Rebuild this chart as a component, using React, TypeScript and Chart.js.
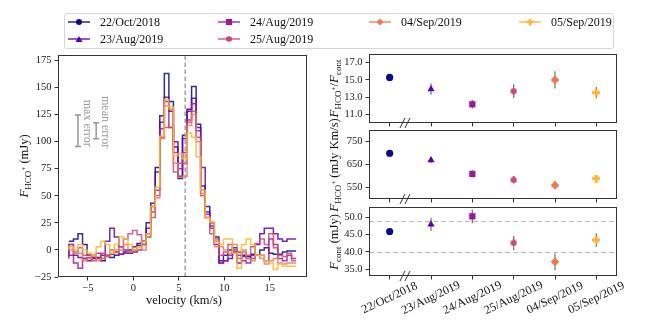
import React, { useEffect, useRef } from "react";
import { Chart, registerables } from "chart.js";
Chart.register(...registerables);

// ---------------- data ----------------
const DATES = ["22/Oct/2018", "23/Aug/2019", "24/Aug/2019", "25/Aug/2019", "04/Sep/2019", "05/Sep/2019"];
const COLORS = ["#0d0887", "#5c01a6", "#9c179e", "#cc4778", "#ed7953", "#fdb42f"];

const VELOCITY = [
  -7.1, -6.6, -6.1, -5.6, -5.1, -4.6, -4.1, -3.6, -3.1, -2.6, -2.1, -1.6, -1.1, -0.6, -0.1, 0.4, 0.9,
  1.4, 1.9, 2.4, 2.9, 3.4, 3.9, 4.4, 4.9, 5.4, 5.9, 6.4, 6.9, 7.4, 7.9, 8.4, 8.9, 9.4, 9.9, 10.4,
  10.9, 11.4, 11.9, 12.4, 12.9, 13.4, 13.9, 14.4, 14.9, 15.4, 15.9, 16.4, 16.9, 17.4, 17.9,
];
const S_22OCT = [
  8, 8, 10, 15, 5, -5, -8, -7, -10, -6, -7, -5, -4, -2, 0, 3, 6, 8,
  25, 43, 76, 124, 163, 137, 95, 66, 106, 130, 151, 116, 59, 40, 25, 12,
  -10, -5, 0, 2, -2, -5, -6, -4, -5, 0, 2, -3, -4, -4, -2, -1, -1,
];
const S_23AUG = [
  -8, 5, -5, -7, -8, -10, -7, -8, -5, 8, 20, 12, 3, 0, -3, -2, 4, 8,
  20, 40, 72, 118, 141, 128, 100, 68, 103, 128, 140, 113, 76, 35, 22, 5,
  -12, -10, -8, -2, -12, -6, -8, -5, 5, 15, 20, 20, 15, 10, 8, 10, 10,
];
const S_24AUG = [
  0, -5, -12, -17, -8, -7, -5, -3, -8, -5, -4, -2, -4, -3, -2, 0, 0, 5,
  15, 35, 55, 112, 137, 113, 90, 75, 90, 120, 135, 110, 55, 33, 20, 8,
  -12, -10, -5, 0, -5, -10, -12, -8, -5, -5, -10, 10, 5, -8, -10, -5, -8,
];
const S_25AUG = [
  3, 5, -2, 2, -5, -5, -10, -8, -3, -5, 0, -2, 3, 10, 15, 18, 14, 5,
  12, 30, 50, 104, 113, 113, 72, 80, 80, 118, 128, 104, 50, 30, 15, 10,
  -5, -2, 5, -3, -8, -2, -5, 3, 6, 10, 5, 15, 2, -5, -6, -3, -10,
];
const S_04SEP = [
  2, 0, -3, -3, -10, -8, -6, -10, -8, -6, -3, 0, 0, 5, -2, 0, 3, 0,
  12, 35, 48, 103, 133, 130, 80, 67, 68, 115, 125, 100, 52, 30, 25, 3,
  3, 0, -3, 5, -2, 0, -8, -10, -5, -8, -13, -10, -8, -12, -13, -12, -12,
];
const S_05SEP = [
  1, 3, 0, 5, 0, -3, -5, 3, 8, 5, -3, 5, 12, 10, 5, 0, 3, 8,
  15, 40, 58, 105, 139, 132, 87, 89, 84, 108, 104, 86, 55, 30, 26, 8,
  5, 10, 10, -3, -17, 5, 10, 5, -5, -5, -10, -12, -18, -13, -15, -15, -15,
];
const SPECTRA = [S_22OCT, S_23AUG, S_24AUG, S_25AUG, S_04SEP, S_05SEP];
const SYSTEMIC_VELOCITY = 5.7;

const VEL_TICKS = [-5, 0, 5, 10, 15];
const FLUX_TICKS = [-25, 0, 25, 50, 75, 100, 125, 150, 175];

const MAX_ERROR = 14.5;
const MEAN_ERROR = 7.4;
const ERROR_LEVEL = 110;

const RATIO = [15.28, 13.93, 12.17, 13.7, 15.0, 13.53];
const RATIO_ERR = [0.3, 0.65, 0.5, 0.8, 1.0, 0.65];
const RATIO_TICKS = [11, 13, 15, 17];

const INT_FLUX = [699, 669, 609, 583, 560, 589];
const INT_FLUX_ERR = [10, 12, 16, 16, 18, 14];
const INT_FLUX_TICKS = [550, 650, 750];

const FCONT = [45.9, 47.95, 50.3, 42.6, 37.1, 43.4];
const FCONT_ERR = [1.0, 1.9, 2.0, 2.1, 2.4, 2.0];
const FCONT_TICKS = [35, 40, 45, 50];
const FCONT_REF = [49.0, 40.1];

// ---------------- helpers ----------------
const FONT = "'Liberation Serif', 'DejaVu Serif', serif";
const TICK_FONT = { family: FONT, size: 10.5 };

function rgba(hex: string, a: number) {
  const n = parseInt(hex.slice(1), 16);
  return `rgba(${n >> 16},${(n >> 8) & 255},${n & 255},${a})`;
}
const minus = (s: string) => s.replace("-", "\u2212");

function fixScale(s: any, horizontal: boolean, size: number) {
  if (horizontal) s.height = size;
  else s.width = size;
  s.paddingLeft = 0;
  s.paddingRight = 0;
  s.paddingTop = 0;
  s.paddingBottom = 0;
}
const setTicks = (vals: number[]) => (s: any) => {
  s.ticks = vals.map((v) => ({ value: v }));
};

type Seg = [string, number, number, boolean?];
function drawRich(ctx: CanvasRenderingContext2D, segs: Seg[], cx: number, cy: number, angle: number, color: string) {
  ctx.save();
  ctx.translate(cx, cy);
  ctx.rotate(angle);
  ctx.fillStyle = color;
  ctx.textBaseline = "alphabetic";
  ctx.textAlign = "left";
  const fontOf = (s: Seg) => `${s[3] ? "italic " : ""}${s[1]}px ${FONT}`;
  let total = 0;
  const ws = segs.map((s) => {
    ctx.font = fontOf(s);
    const w = ctx.measureText(s[0]).width;
    total += w;
    return w;
  });
  let x = -total / 2;
  segs.forEach((s, i) => {
    ctx.font = fontOf(s);
    ctx.fillText(s[0], x, 4 + s[2]);
    x += ws[i];
  });
  ctx.restore();
}

const F_HCO: Seg[] = [["F", 13, 0, true], ["HCO", 9, 2.5], ["+", 7, -2.5]];
const F_CONT: Seg[] = [["F", 13, 0, true], ["cont", 9, 2.5]];

const boxPlugin = {
  id: "box",
  afterDatasetsDraw(chart: any) {
    const { ctx, chartArea: a } = chart;
    ctx.save();
    ctx.strokeStyle = "#333";
    ctx.lineWidth = 1;
    ctx.strokeRect(Math.round(a.left) + 0.5, Math.round(a.top) + 0.5, Math.round(a.right - a.left) - 1, Math.round(a.bottom - a.top) - 1);
    ctx.restore();
  },
};

function labelPlugin(segs: Seg[], cx: number, cy: number, angle: number) {
  return {
    id: "lbl",
    afterDraw(chart: any) {
      drawRich(chart.ctx, segs, cx, cy, angle, "#111");
    },
  };
}

function errPlugin(vals: number[], errs: number[]) {
  return {
    id: "err",
    beforeDatasetsDraw(chart: any) {
      const x = chart.scales.x, y = chart.scales.y, ctx = chart.ctx;
      ctx.save();
      ctx.strokeStyle = "rgba(110,110,110,0.9)";
      ctx.lineWidth = 1.3;
      vals.forEach((v, i) => {
        const px = x.getPixelForValue(i);
        ctx.beginPath();
        ctx.moveTo(px, y.getPixelForValue(v - errs[i]));
        ctx.lineTo(px, y.getPixelForValue(v + errs[i]));
        ctx.stroke();
      });
      ctx.restore();
    },
  };
}

const breakPlugin = {
  id: "brk",
  afterDraw(chart: any) {
    const x = chart.scales.x, ctx = chart.ctx;
    const x0 = x.getPixelForValue(0), x1 = x.getPixelForValue(1);
    const cx = x0 + 0.37 * (x1 - x0);
    const y = chart.chartArea.bottom;
    ctx.save();
    ctx.strokeStyle = "#333";
    ctx.lineWidth = 1;
    [-2.5, 2.5].forEach((o) => {
      ctx.beginPath();
      ctx.moveTo(cx + o - 2.5, y + 5);
      ctx.lineTo(cx + o + 2.5, y - 5);
      ctx.stroke();
    });
    ctx.restore();
  },
};

function makeMarker(kind: "hex" | "plus", color: string, size: number) {
  const c = document.createElement("canvas");
  c.width = size;
  c.height = size;
  const g = c.getContext("2d")!;
  g.fillStyle = color;
  g.beginPath();
  const r = size / 2;
  if (kind === "hex") {
    for (let k = 0; k < 6; k++) {
      const a = -Math.PI / 2 + (k * Math.PI) / 3;
      const px = r + r * Math.cos(a), py = r + r * Math.sin(a);
      if (k === 0) g.moveTo(px, py);
      else g.lineTo(px, py);
    }
    g.closePath();
  } else {
    const t = size * 0.36;
    const o = (size - t) / 2;
    g.rect(o, 0, t, size);
    g.rect(0, o, size, t);
  }
  g.fill();
  return c;
}

const PANEL_Y_W = 45;
function panelYScale(min: number, max: number, ticks: number[], fmt: (v: number) => string) {
  return {
    type: "linear",
    min,
    max,
    afterBuildTicks: setTicks(ticks),
    afterFit: (s: any) => fixScale(s, false, PANEL_Y_W),
    grid: { drawOnChartArea: false, tickLength: 3.5, color: "#333" },
    border: { display: false },
    ticks: { font: TICK_FONT, color: "#222", padding: 3, autoSkip: false, callback: (v: any) => fmt(Number(v)) },
  };
}
const panelXScale = {
  type: "category",
  offset: true,
  afterFit: (s: any) => fixScale(s, true, 0),
  grid: { offset: false, drawOnChartArea: false, tickLength: 3.5, color: "#333" },
  border: { display: false },
  ticks: { display: false },
};

function panelConfig(vals: number[], errs: number[], yScale: any, padTop: number, padBottom: number, extra: any[]) {
  const styles: any[] = [
    "circle",
    "triangle",
    "rect",
    makeMarker("hex", COLORS[3], 7),
    "rectRot",
    makeMarker("plus", COLORS[5], 8),
  ];
  return {
    type: "line",
    data: {
      labels: DATES,
      datasets: [
        {
          data: vals,
          showLine: false,
          pointStyle: styles,
          pointRadius: [3.6, 4.2, 4.4, 3.5, 4.3, 4],
          pointBackgroundColor: COLORS,
          pointBorderColor: COLORS,
          pointBorderWidth: 0,
        },
      ],
    },
    options: {
      responsive: false,
      animation: false,
      devicePixelRatio: 1,
      events: [],
      layout: { padding: { left: 369 - PANEL_Y_W, right: 33, top: padTop, bottom: padBottom } },
      plugins: { legend: { display: false }, tooltip: { enabled: false } },
      scales: { x: panelXScale, y: yScale },
    },
    plugins: [errPlugin(vals, errs), boxPlugin, breakPlugin, ...extra],
  };
}

// ---------------- chart configs ----------------
function spectrumConfig() {
  const datasets: any[] = SPECTRA.map((s, i) => ({
    label: DATES[i],
    data: VELOCITY.map((v, j) => ({ x: v, y: s[j] })),
    borderColor: rgba(COLORS[i], 0.85),
    borderWidth: 1.5,
    pointRadius: 0,
    stepped: "after",
    fill: false,
    order: 10 - i,
  }));
  datasets.push({
    data: [
      { x: SYSTEMIC_VELOCITY, y: -25 },
      { x: SYSTEMIC_VELOCITY, y: 180 },
    ],
    borderColor: "rgba(150,150,150,0.85)",
    borderWidth: 1.6,
    borderDash: [4.5, 2.5],
    pointRadius: 0,
    order: -1,
  });
  const annot = {
    id: "annot",
    afterDatasetsDraw(chart: any) {
      const x = chart.scales.x, y = chart.scales.y, ctx = chart.ctx;
      ctx.save();
      ctx.strokeStyle = "rgba(140,140,140,0.9)";
      ctx.lineWidth = 1.5;
      ([[-6.1, MAX_ERROR], [-4.1, MEAN_ERROR]] as number[][]).forEach(([xv, e]) => {
        const px = x.getPixelForValue(xv);
        const t = y.getPixelForValue(ERROR_LEVEL + e), b = y.getPixelForValue(ERROR_LEVEL - e);
        ctx.beginPath();
        ctx.moveTo(px, t);
        ctx.lineTo(px, b);
        ctx.moveTo(px - 3, t);
        ctx.lineTo(px + 3, t);
        ctx.moveTo(px - 3, b);
        ctx.lineTo(px + 3, b);
        ctx.stroke();
      });
      ctx.restore();
      drawRich(ctx, [["max error", 12, 0]], x.getPixelForValue(-4.95), y.getPixelForValue(117), Math.PI / 2, "#9a9a9a");
      drawRich(ctx, [["mean error", 12, 0]], x.getPixelForValue(-3.0), y.getPixelForValue(118), Math.PI / 2, "#9a9a9a");
      drawRich(ctx, [...F_HCO, [" (mJy)", 12.5, 0]], 24, 166, -Math.PI / 2, "#111");
      drawRich(ctx, [["velocity (km/s)", 12.5, 0]], 184, 300, 0, "#111");
    },
  };
  return {
    type: "line",
    data: { datasets },
    options: {
      responsive: false,
      animation: false,
      devicePixelRatio: 1,
      events: [],
      layout: { padding: { left: 8, top: 55, right: 343, bottom: 23 } },
      plugins: { legend: { display: false }, tooltip: { enabled: false } },
      scales: {
        x: {
          type: "linear",
          min: -8.3,
          max: 19.1,
          afterBuildTicks: setTicks(VEL_TICKS),
          afterFit: (s: any) => fixScale(s, true, 25),
          grid: { drawOnChartArea: false, tickLength: 3.5, color: "#333" },
          border: { display: false },
          ticks: { font: TICK_FONT, color: "#222", padding: 1, maxRotation: 0, autoSkip: false, callback: (v: any) => minus(String(v)) },
        },
        y: {
          type: "linear",
          min: -25,
          max: 180,
          afterBuildTicks: setTicks(FLUX_TICKS),
          afterFit: (s: any) => fixScale(s, false, 50),
          grid: { drawOnChartArea: false, tickLength: 3.5, color: "#333" },
          border: { display: false },
          ticks: { font: TICK_FONT, color: "#222", padding: 3, autoSkip: false, callback: (v: any) => minus(String(v)) },
        },
      },
    },
    plugins: [boxPlugin, annot],
  };
}

function ratioConfig() {
  return panelConfig(RATIO, RATIO_ERR, panelYScale(10, 18, RATIO_TICKS, (v) => v.toFixed(1)), 54, 202, [
    labelPlugin([...F_HCO, ["/", 12.5, 0], ...F_CONT], 334, 88.5, -Math.PI / 2),
  ]);
}
function intFluxConfig() {
  return panelConfig(INT_FLUX, INT_FLUX_ERR, panelYScale(500, 800, INT_FLUX_TICKS, (v) => String(v)), 130, 126, [
    labelPlugin([...F_HCO, [" (mJy Km/s)", 12.5, 0]], 334, 165, -Math.PI / 2),
  ]);
}
function fcontConfig() {
  const refLines = {
    id: "ref",
    beforeDatasetsDraw(chart: any) {
      const y = chart.scales.y, a = chart.chartArea, ctx = chart.ctx;
      ctx.save();
      ctx.strokeStyle = "#bdbdbd";
      ctx.lineWidth = 1;
      ctx.setLineDash([5, 3]);
      FCONT_REF.forEach((v) => {
        const py = Math.round(y.getPixelForValue(v)) + 0.5;
        ctx.beginPath();
        ctx.moveTo(a.left, py);
        ctx.lineTo(a.right, py);
        ctx.stroke();
      });
      ctx.restore();
    },
  };
  const dateLabels = {
    id: "dates",
    afterDraw(chart: any) {
      const x = chart.scales.x, ctx = chart.ctx;
      ctx.save();
      ctx.fillStyle = "#111";
      ctx.font = `12px ${FONT}`;
      ctx.textAlign = "center";
      ctx.textBaseline = "middle";
      DATES.forEach((d, i) => {
        ctx.save();
        ctx.translate(x.getPixelForValue(i), 298);
        ctx.rotate((-25 * Math.PI) / 180);
        ctx.fillText(d, 0, 0);
        ctx.restore();
      });
      ctx.restore();
    },
  };
  return panelConfig(FCONT, FCONT_ERR, panelYScale(33, 53, FCONT_TICKS, (v) => v.toFixed(1)), 207, 49, [
    refLines,
    dateLabels,
    labelPlugin([...F_CONT, [" (mJy)", 12.5, 0]], 334, 242, -Math.PI / 2),
  ]);
}

// ---------------- components ----------------
function ChartLayer({ make }: { make: () => any }) {
  const ref = useRef<HTMLCanvasElement>(null);
  useEffect(() => {
    const chart = new Chart(ref.current as HTMLCanvasElement, make());
    return () => chart.destroy();
  }, []);
  return (
    <canvas
      ref={ref}
      width={650}
      height={325}
      style={{ position: "absolute", left: 0, top: 0, width: 650, height: 325 }}
    />
  );
}

const LEGEND_POS = [
  [68, 22],
  [68, 39],
  [218, 22],
  [218, 39],
  [369, 22],
  [519, 22],
];
const MARKER_CSS: any[] = [
  { w: 6, h: 6, borderRadius: "50%" },
  { w: 7, h: 6, clipPath: "polygon(50% 0, 100% 100%, 0 100%)" },
  { w: 6, h: 6 },
  { w: 6, h: 6, clipPath: "polygon(50% 0, 100% 25%, 100% 75%, 50% 100%, 0 75%, 0 25%)" },
  { w: 7, h: 7, clipPath: "polygon(50% 0, 100% 50%, 50% 100%, 0 50%)" },
  {
    w: 7,
    h: 7,
    clipPath: "polygon(32% 0,68% 0,68% 32%,100% 32%,100% 68%,68% 68%,68% 100%,32% 100%,32% 68%,0 68%,0 32%,32% 32%)",
  },
];

function Legend() {
  return (
    <>
      <div
        style={{
          position: "absolute",
          left: 64,
          top: 13,
          width: 550,
          height: 36,
          border: "1px solid #d6d6d6",
          borderRadius: 3,
          boxSizing: "border-box",
          background: "rgba(255,255,255,0.8)",
        }}
      />
      {DATES.map((d, i) => {
        const [lx, cy] = LEGEND_POS[i];
        const m = MARKER_CSS[i];
        return (
          <React.Fragment key={d}>
            <div
              style={{
                position: "absolute",
                left: lx,
                top: cy - 1,
                width: 22,
                height: 2,
                background: rgba(COLORS[i], 0.65),
              }}
            />
            <div
              style={{
                position: "absolute",
                left: lx + 11 - m.w / 2,
                top: cy - m.h / 2,
                width: m.w,
                height: m.h,
                background: COLORS[i],
                borderRadius: m.borderRadius,
                clipPath: m.clipPath,
              }}
            />
            <div
              style={{
                position: "absolute",
                left: lx + 32,
                top: cy - 8,
                height: 16,
                lineHeight: "16px",
                fontFamily: FONT,
                fontSize: 12,
                color: "#111",
                whiteSpace: "nowrap",
              }}
            >
              {d}
            </div>
          </React.Fragment>
        );
      })}
    </>
  );
}

export default function App() {
  return (
    <div
      style={{
        position: "fixed",
        left: 0,
        top: 0,
        width: 650,
        height: 325,
        background: "#fff",
        overflow: "hidden",
      }}
    >
      <ChartLayer make={spectrumConfig} />
      <ChartLayer make={ratioConfig} />
      <ChartLayer make={intFluxConfig} />
      <ChartLayer make={fcontConfig} />
      <Legend />
    </div>
  );
}
